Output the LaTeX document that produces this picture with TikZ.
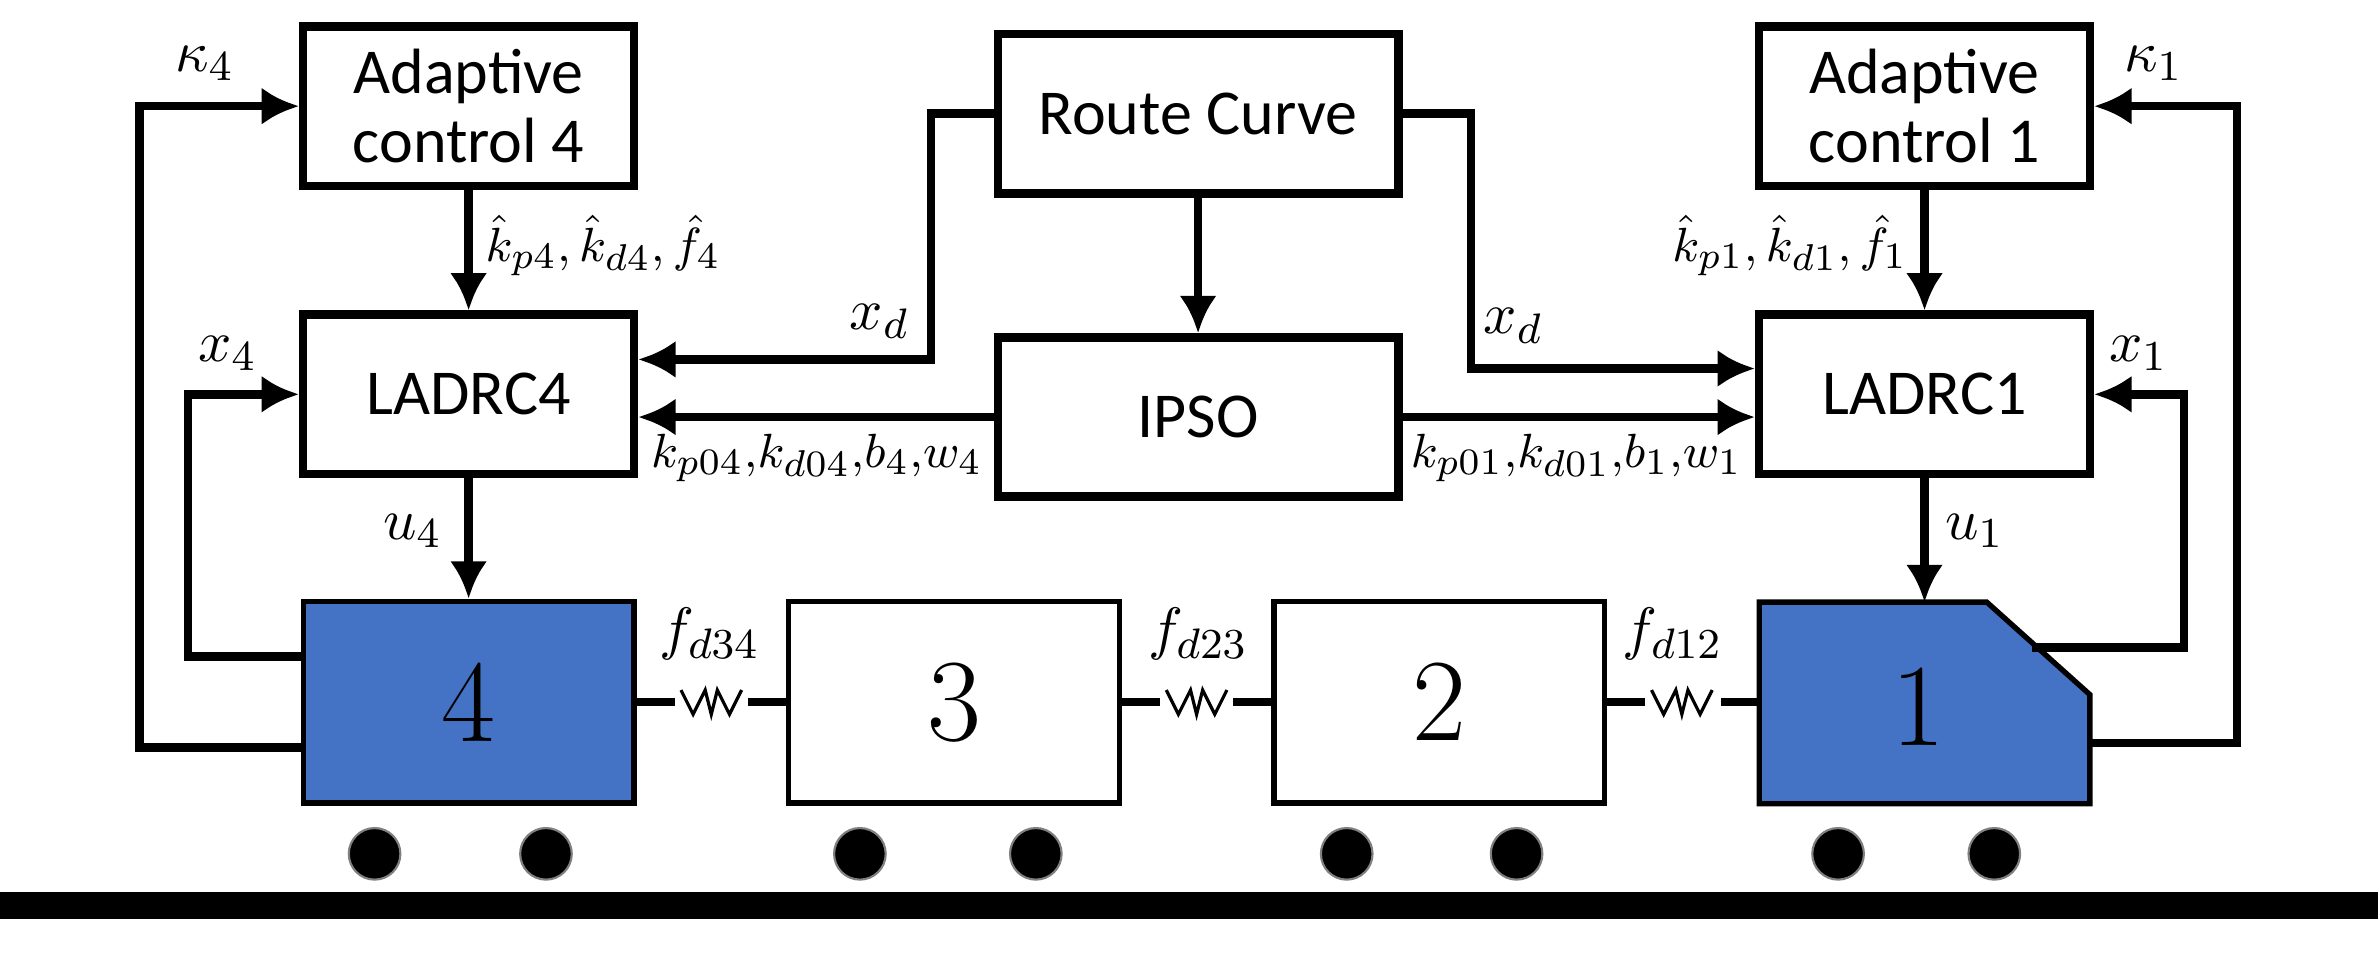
\documentclass[tikz,border=0pt]{standalone}
\usepackage{fontspec}
\usepackage{amsmath}
\newfontfamily\boxfont{Carlito}
\usetikzlibrary{positioning,calc}
\definecolor{carblue}{HTML}{4472C4}
\tikzset{
  blk/.style = {draw, line width=1.6pt, minimum width=2.18cm, minimum height=1.05cm, align=center, font=\boxfont\fontsize{12}{13}\selectfont, inner sep=1pt},
  car/.style = {draw, line width=1pt, minimum width=2.18cm, minimum height=1.33cm, font=\fontsize{22}{24}\selectfont},
  wheel/.style = {circle, fill=black, draw=gray, minimum size=0.34cm, inner sep=0pt},
  sig/.style = {line width=1.6pt, -{Latex[length=7pt,width=7pt]}},
  lbl/.style = {font=\fontsize{11}{13}\selectfont, inner sep=1pt},
  gain/.style = {font=\fontsize{9.5}{11}\selectfont, inner sep=1pt}
}
\usetikzlibrary{arrows.meta}
\begin{document}
\begin{tikzpicture}[x=0.01cm, y=-0.01cm]
\useasboundingbox (0,0) rectangle (1568,633);
% blocks
\node[blk] (AC4) at (309,70) {Adaptive\\control 4};
\node[blk] (AC1) at (1269,70) {Adaptive\\control 1};
\node[blk, minimum width=2.64cm] (RC) at (790,75) {Route Curve};
\node[blk] (L4) at (309,260) {LADRC4};
\node[blk] (L1) at (1269,260) {LADRC1};
\node[blk, minimum width=2.64cm] (PSO) at (790,275) {IPSO};
% cars
\node[car, fill=carblue] (C4) at (309,463) {4};
\node[car] (C3) at (629,463) {3};
\node[car] (C2) at (949,463) {2};
\draw[line width=1pt, fill=carblue] (1160,397) -- (1310,397) -- (1378,458) -- (1378,530) -- (1160,530) -- cycle;
\node[font=\fontsize{22}{24}\selectfont] (C1) at (1265,466) {1};
\coordinate (C1w) at (1160,463);
\coordinate (C1top) at (1269,397);
% wheels and rail
\foreach \x [count=\i] in {247,360,567,683,888,1000,1212,1315}
  \node[wheel] (w\i) at (\x,563) {};
\fill (0,588) rectangle (1568,606);
% couplers
\foreach \a/\b/\m in {C4.east/C3.west/469, C3.east/C2.west/789, C2.east/C1w/1109}{
  \draw[line width=1.6pt] (\a |- 0,463) -- ++(25,0);
  \draw[line width=1.6pt] (\b |- 0,463) -- ++(-25,0);
  \draw[line width=0.6pt] (\m-20,455) -- (\m-12,471) -- (\m-4,455) -- (\m,471) -- (\m+4,455) -- (\m+12,471) -- (\m+20,455);
}
\node[lbl] at (468,418) {$f_{d34}$};
\node[lbl] at (790,418) {$f_{d23}$};
\node[lbl] at (1103,418) {$f_{d12}$};
% signals
\draw[sig] (RC.west) -- (614,75) |- (L4.east |- 0,237);
\draw[sig] (RC.east) -- (970,75) |- (L1.west |- 0,243);
\draw[sig] (RC) -- (PSO);
\draw[sig] (PSO.west) -- (L4.east |- PSO.west);
\draw[sig] (PSO.east) -- (L1.west |- PSO.east);
\draw[sig] (AC4) -- (L4);
\draw[sig] (AC1) -- (L1);
\draw[sig] (L4) -- (C4);
\draw[sig] (L1) -- (C1top);
\draw[sig] (C4.west |- 0,433) -- (124,433) |- (L4.west);
\draw[sig] (C4.west |- 0,493) -- (92,493) |- (AC4.west);
\draw[sig] (1340,427) -- (1440,427) |- (L1.east);
\draw[sig] (1378,490) -- (1475,490) |- (AC1.east);
% labels
\node[lbl] at (135,42) {$\kappa_4$};
\node[lbl] at (1420,42) {$\kappa_1$};
\node[gain, anchor=west] at (316,162) {$\hat{k}_{p4},\hat{k}_{d4},\hat{f}_4$};
\node[gain, anchor=east] at (1262,162) {$\hat{k}_{p1},\hat{k}_{d1},\hat{f}_1$};
\node[lbl] at (580,212) {$x_d$};
\node[lbl] at (998,215) {$x_d$};
\node[lbl] at (150,233) {$x_4$};
\node[lbl] at (1410,233) {$x_1$};
\node[lbl] at (272,350) {$u_4$};
\node[lbl] at (1302,350) {$u_1$};
\node[gain, anchor=east] at (652,302) {$k_{p04},\!k_{d04},\!b_4,\!w_4$};
\node[gain, anchor=west] at (926,302) {$k_{p01},\!k_{d01},\!b_1,\!w_1$};
\end{tikzpicture}
\end{document}
